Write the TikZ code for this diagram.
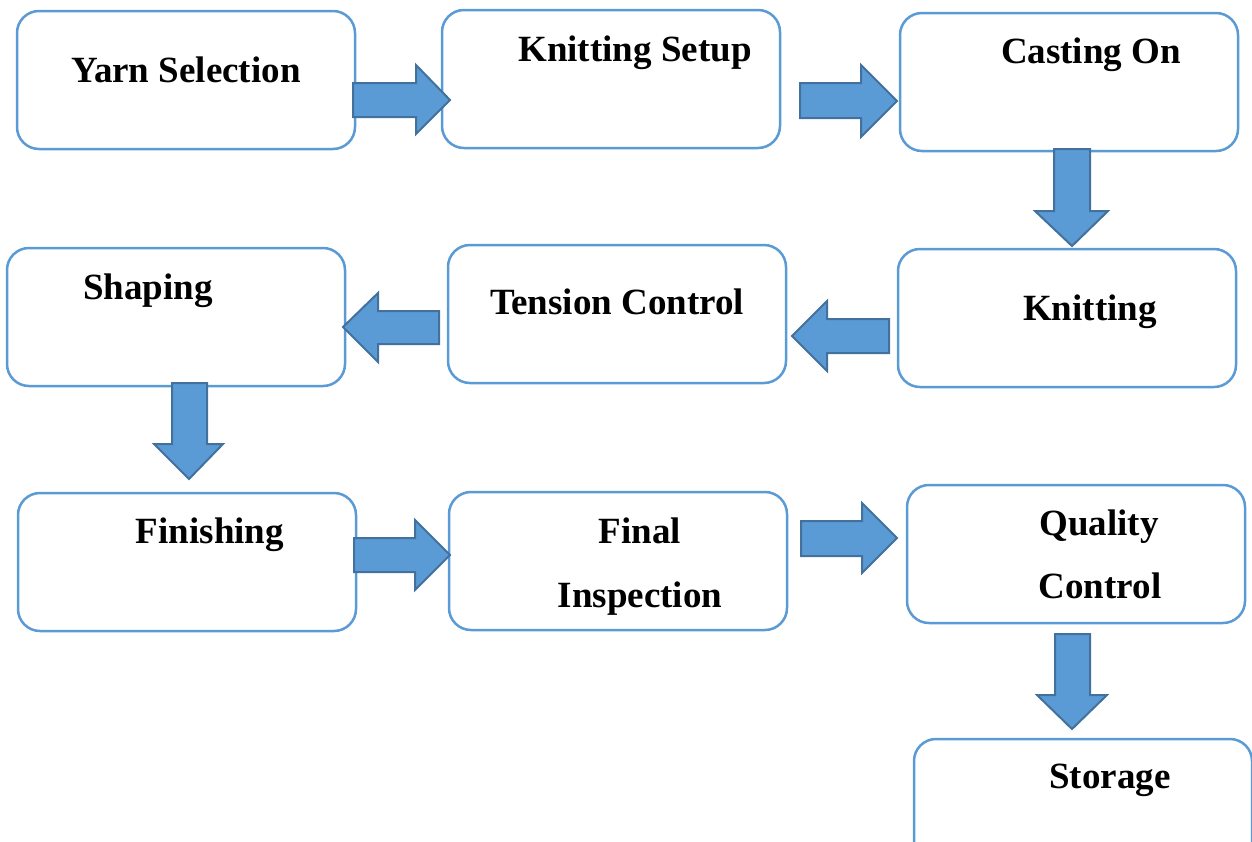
\documentclass[tikz,border=0pt]{standalone}
\usepackage{fontspec}
\setmainfont{Liberation Serif}
\definecolor{boxblue}{HTML}{5B9BD5}
\definecolor{arrfill}{HTML}{5B9BD5}
\definecolor{arrline}{HTML}{41719C}
\begin{document}
\begin{tikzpicture}[x=1pt,y=-1pt,
  procbox/.style={draw=boxblue, line width=2.5pt, rounded corners=22pt, fill=white,
    minimum width=338pt, minimum height=138pt, inner sep=0pt},
  lbl/.style={anchor=base, inner sep=0pt, font=\fontsize{37}{44}\selectfont\bfseries},
  blk/.style={fill=arrfill, draw=arrline, line width=2pt, line join=miter}]
\useasboundingbox (0,0) rectangle (1252,841);
\clip (0,0) rectangle (1252,841);
% boxes
\node[procbox] (yarn) at (186,80) {};
\node[procbox] (setup) at (611,79) {};
\node[procbox] (cast) at (1069,82) {};
\node[procbox] (knit) at (1067,318) {};
\node[procbox] (tension) at (617,314) {};
\node[procbox] (shaping) at (176,317) {};
\node[procbox] (finishing) at (187,562) {};
\node[procbox] (final) at (618,561) {};
\node[procbox] (quality) at (1076,554) {};
\node[procbox] (storage) at (1083,808) {};
% labels
\node[lbl] (yarnT) at (186,82) {Yarn Selection};
\node[lbl] (setupT) at (635,61) {Knitting Setup};
\node[lbl] (castT) at (1091,63) {Casting On};
\node[lbl] (knitT) at (1090,320) {Knitting};
\node[lbl] (tensionT) at (617,314) {Tension Control};
\node[lbl] (shapingT) at (148,299) {Shaping};
\node[lbl] (finishingT) at (210,543) {Finishing};
\node[lbl] (finalT) at (640,543) {Final};
\node[lbl] (finalT2) at (640,607) {Inspection};
\node[lbl] (qualityT) at (1099,535) {Quality};
\node[lbl] (qualityT2) at (1100,598) {Control};
\node[lbl] (storageT) at (1110,788) {Storage};
% block arrows: right
\draw[blk] (353,83) -- (416,83) -- (416,65) -- (450,100) -- (416,134) -- (416,117) -- (353,117) -- cycle;
\draw[blk] (800,83) -- (861,83) -- (861,65) -- (897,101) -- (861,137) -- (861,118) -- (800,118) -- cycle;
\draw[blk] (354,538) -- (415,538) -- (415,520) -- (450,555) -- (415,590) -- (415,572) -- (354,572) -- cycle;
\draw[blk] (801,521) -- (862,521) -- (862,503) -- (897,538) -- (862,573) -- (862,556) -- (801,556) -- cycle;
% left
\draw[blk] (439,311) -- (378,311) -- (378,293) -- (343,327) -- (378,362) -- (378,344) -- (439,344) -- cycle;
\draw[blk] (889,319) -- (827,319) -- (827,301) -- (792,336) -- (827,371) -- (827,353) -- (889,353) -- cycle;
% down
\draw[blk] (1054,149) -- (1054,211) -- (1035,211) -- (1072,246) -- (1108,211) -- (1090,211) -- (1090,149) -- cycle;
\draw[blk] (172,383) -- (172,444) -- (154,444) -- (189,479) -- (223,444) -- (207,444) -- (207,383) -- cycle;
\draw[blk] (1055,634) -- (1055,695) -- (1037,695) -- (1072,729) -- (1107,695) -- (1090,695) -- (1090,634) -- cycle;
\end{tikzpicture}
\end{document}
